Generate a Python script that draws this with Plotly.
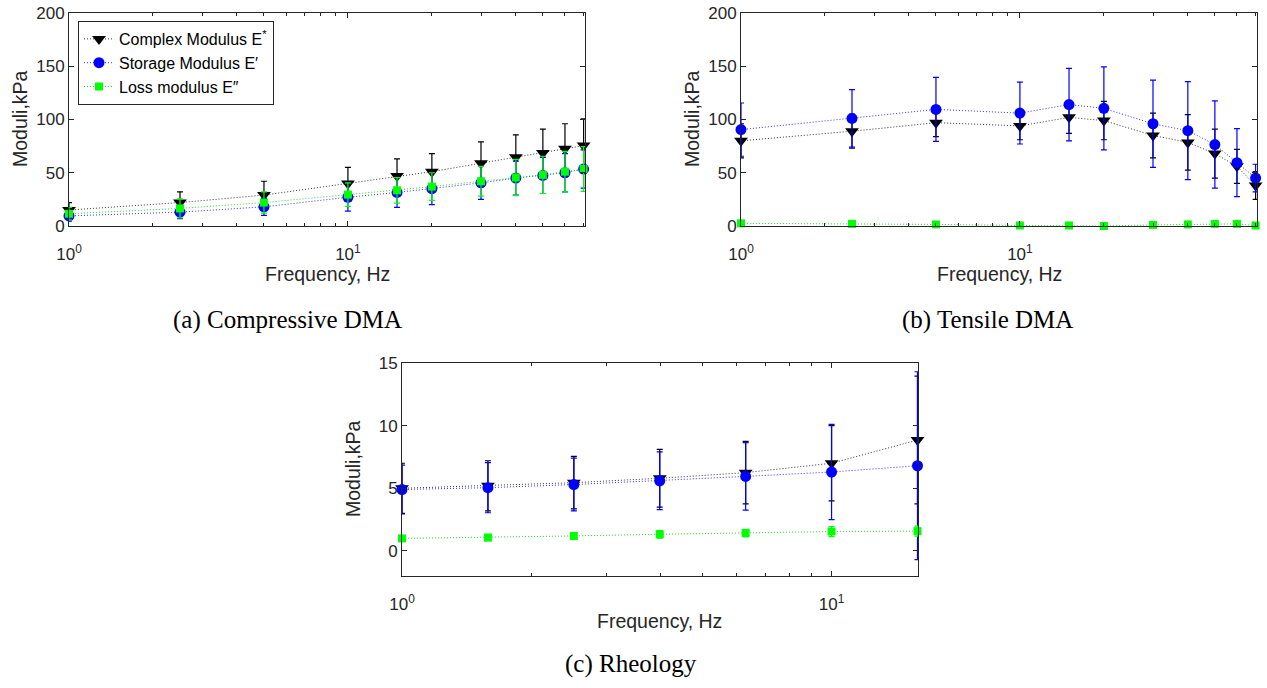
import plotly.graph_objects as go

# ---------------- data ----------------
freq_ab = [1, 2.5, 5, 10, 15, 20, 30, 40, 50, 60, 70]
freq_c = [1, 1.585, 2.512, 3.981, 6.31, 10, 15.85]

complex_a = [15, 22, 29, 40, 47, 51, 59, 64.5, 68.5, 72.5, 75.5]
complex_a_err = [7, 10, 13, 15, 16, 17, 20, 21, 22.5, 23.5, 25]
storage_a = [9.5, 13, 18, 27, 31.5, 35, 40.5, 45, 47.5, 50, 53.5]
storage_a_err = [5, 6, 8, 13, 14, 15, 15.5, 16, 17, 18, 18]
loss_a = [11.5, 16.5, 22, 29.5, 33.5, 37, 42, 45.5, 48, 51, 53.5]
loss_a_err = [6, 9, 10, 11, 12, 13, 14, 17, 17.5, 19, 21]

complex_b = [80, 89, 97, 94, 102, 99, 85, 78.5, 68, 56, 38]
complex_b_err = [16, 16, 13, 13, 15, 18, 21, 26, 23, 16, 13]
storage_b = [90.5, 101, 109.5, 106, 114, 110.5, 96, 89.5, 76.5, 59.5, 45]
storage_b_err = [25, 27, 30, 29, 34, 39, 41, 46, 41, 32, 13]
loss_b = [2.5, 2, 1.5, 0.5, 0.5, 0, 1, 1.5, 2, 2, 0.5]
loss_b_err = [0.5, 0.5, 0.5, 0.5, 0.5, 0.5, 0.5, 0.5, 0.5, 0.5, 0.5]

complex_c = [5.0, 5.2, 5.45, 5.8, 6.25, 7.0, 8.85]
complex_c_err = [2.0, 2.0, 2.1, 2.3, 2.5, 3.0, 5.1]
storage_c = [4.9, 5.05, 5.3, 5.6, 5.95, 6.3, 6.8]
storage_c_err = [1.95, 2.0, 2.1, 2.3, 2.7, 3.8, 7.5]
loss_c = [1.0, 1.07, 1.2, 1.33, 1.43, 1.55, 1.58]
loss_c_err = [0.2, 0.25, 0.25, 0.3, 0.3, 0.4, 0.4]

series_names = ["Complex Modulus E<sup>*</sup>", "Storage Modulus E′", "Loss modulus E″"]
captions = ["(a) Compressive DMA", "(b) Tensile DMA", "(c) Rheology"]
x_title = "Frequency, Hz"
y_title = "Moduli,kPa"
x_ticks = [1, 10]
x_ticktext = ["10<sup>0</sup>", "10<sup>1</sup>"]
minor_ab = [2, 3, 4, 5, 6, 7, 8, 9, 20, 30, 40, 50, 60, 70]
minor_c = [2, 3, 4, 5, 6, 7, 8, 9]

# ---------------- styling ----------------
W, H = 1267, 688
AX = "#262626"
SANS = "Liberation Sans, Arial, sans-serif"
styles = [
    dict(color="black", line="rgba(0,0,0,0.8)", symbol="triangle-down", size=12),
    dict(color="#0000ff", line="rgba(0,0,255,0.8)", symbol="circle", size=11),
    dict(color="#00ff00", line="rgba(0,220,0,0.85)", symbol="square", size=8),
]

fig = go.Figure()

panels = [
    ("x", "y", freq_ab, [(complex_a, complex_a_err), (storage_a, storage_a_err), (loss_a, loss_a_err)], True),
    ("x2", "y2", freq_ab, [(complex_b, complex_b_err), (storage_b, storage_b_err), (loss_b, loss_b_err)], False),
    ("x3", "y3", freq_c, [(complex_c, complex_c_err), (storage_c, storage_c_err), (loss_c, loss_c_err)], False),
]

for xa, ya, fx, sets, show in panels:
    for i, (vals, errs) in enumerate(sets):
        st = styles[i]
        fig.add_trace(go.Scatter(
            x=fx, y=vals, xaxis=xa, yaxis=ya,
            mode="lines+markers", name=series_names[i], showlegend=show,
            line=dict(color=st["line"], width=1, dash="1px,2px"),
            marker=dict(symbol=st["symbol"], size=st["size"], color=st["color"],
                        line=dict(width=0)),
            error_y=dict(type="data", array=errs, visible=True, color=st["color"],
                         thickness=1.2, width=3),
            cliponaxis=False,
        ))

def px_x(a, b):
    return [a / W, b / W]

def px_y(top, bottom):
    return [1 - bottom / H, 1 - top / H]

tickfont = dict(family=SANS, size=17, color=AX)
titlefont = dict(family=SANS, size=19.5, color=AX)

def xaxis_cfg(dom, rng, minor_vals, anchor):
    return dict(
        type="log", domain=dom, range=rng, anchor=anchor, automargin=False,
        tickvals=x_ticks, ticktext=x_ticktext, tickfont=tickfont,
        ticks="inside", ticklen=5, tickcolor=AX, tickwidth=1,
        minor=dict(tickvals=minor_vals, ticks="inside", ticklen=3, tickcolor=AX, tickwidth=1),
        showline=True, linecolor=AX, linewidth=1, mirror="ticks",
        showgrid=False, zeroline=False, ticklabelstandoff=13,
    )

def yaxis_cfg(dom, rng, tvals, anchor):
    return dict(
        domain=dom, range=rng, anchor=anchor, automargin=False,
        tickvals=tvals, tickfont=tickfont,
        ticks="inside", ticklen=5, tickcolor=AX, tickwidth=1,
        showline=True, linecolor=AX, linewidth=1, mirror="ticks",
        showgrid=False, zeroline=False,
    )

fig.update_layout(
    template="none",
    width=W, height=H,
    margin=dict(l=0, r=0, t=0, b=0, autoexpand=False),
    paper_bgcolor="white", plot_bgcolor="white",
    xaxis=xaxis_cfg(px_x(69, 585), [0, 1.85], minor_ab, "y"),
    yaxis=yaxis_cfg(px_y(13, 226), [0, 200], [0, 50, 100, 150, 200], "x"),
    xaxis2=xaxis_cfg(px_x(741, 1257), [0, 1.85], minor_ab, "y2"),
    yaxis2=yaxis_cfg(px_y(13, 226), [0, 200], [0, 50, 100, 150, 200], "x2"),
    xaxis3=xaxis_cfg(px_x(402, 918), [0, 1.2012], minor_c, "y3"),
    yaxis3=yaxis_cfg(px_y(363, 576), [-2, 15], [0, 5, 10, 15], "x3"),
    legend=dict(
        x=78 / W, y=1 - 21 / H, xanchor="left", yanchor="top",
        bgcolor="white", bordercolor=AX, borderwidth=1,
        font=dict(family=SANS, size=16, color="black"),
        tracegroupgap=0, itemwidth=30,
    ),
)

# axis titles (placed as annotations for precise positioning)
x_title_pos = [(327, 274), (999, 274), (660, 621)]
y_title_pos = [(20, 119), (692, 119), (353, 469)]
for (tx, ty) in x_title_pos:
    fig.add_annotation(text=x_title, x=tx / W, y=1 - ty / H, xref="paper", yref="paper",
                       xanchor="center", yanchor="middle", showarrow=False,
                       font=titlefont)
for (tx, ty) in y_title_pos:
    fig.add_annotation(text=y_title, x=tx / W, y=1 - ty / H, xref="paper", yref="paper",
                       xanchor="center", yanchor="middle", showarrow=False,
                       textangle=-90, font=titlefont)

cap_font = dict(family="Liberation Serif, serif", size=25, color="black")
for text, cx, cy in zip(captions, [287, 987, 631], [320, 320, 664]):
    fig.add_annotation(text=text, x=cx / W, y=1 - cy / H, xref="paper", yref="paper",
                       xanchor="center", yanchor="middle", showarrow=False, font=cap_font)

fig.write_html("out.html",
               config={"displayModeBar": False},
               post_script="document.body.style.margin='0px';document.body.style.overflow='hidden';")
